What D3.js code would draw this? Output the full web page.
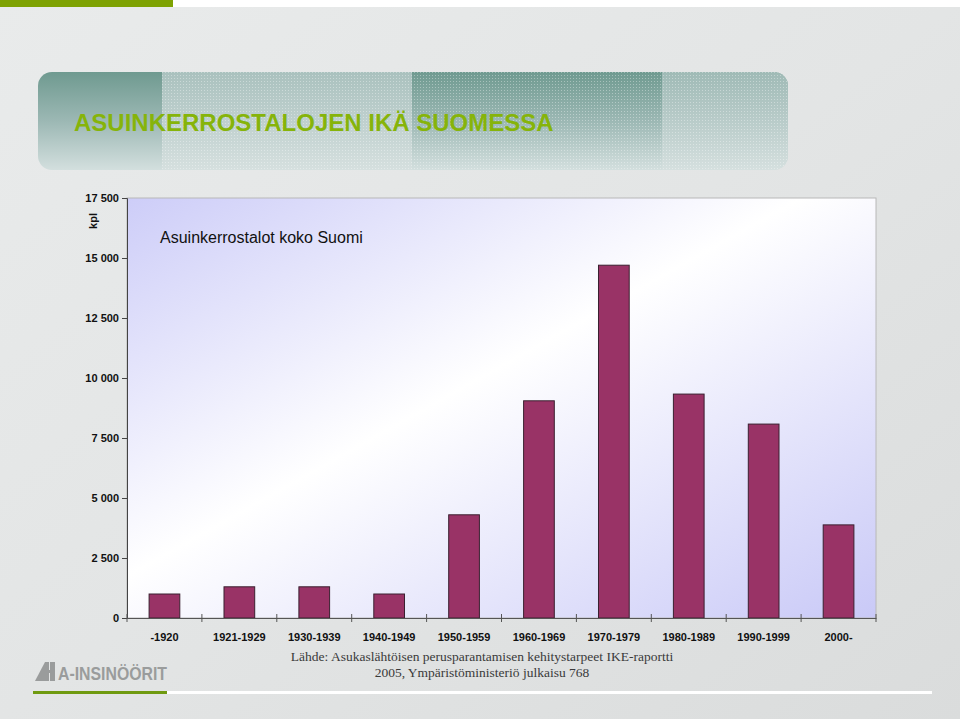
<!DOCTYPE html>
<html>
<head>
<meta charset="utf-8">
<script src="https://cdn.jsdelivr.net/npm/d3@7"></script>
<style>
html,body{margin:0;padding:0;overflow:hidden;}
svg{display:block;}
</style>
</head>
<body>
<script>
const categories = ["-1920","1921-1929","1930-1939","1940-1949","1950-1959","1960-1969","1970-1979","1980-1989","1990-1999","2000-"];
const values = [1000, 1300, 1300, 1000, 4300, 9050, 14700, 9330, 8080, 3880];
const yTicks = [0, 2500, 5000, 7500, 10000, 12500, 15000, 17500];
const title = "ASUINKERROSTALOJEN IKÄ SUOMESSA";
const chartTitle = "Asuinkerrostalot koko Suomi";
const yLabel = "kpl";
const sourceLines = ["Lähde: Asukaslähtöisen perusparantamisen kehitystarpeet IKE-raportti", "2005, Ympäristöministeriö julkaisu 768"];

const W = 960, H = 719;
const svg = d3.select("body").append("svg").attr("width", W).attr("height", H);
const defs = svg.append("defs");

// page background
const bg = defs.append("linearGradient").attr("id","bg").attr("x1","0").attr("y1","0").attr("x2","1").attr("y2","1");
bg.append("stop").attr("offset","0").attr("stop-color","#e9ebeb");
bg.append("stop").attr("offset","0.5").attr("stop-color","#e3e5e5");
bg.append("stop").attr("offset","1").attr("stop-color","#dadcdc");
svg.append("rect").attr("width",W).attr("height",H).attr("fill","url(#bg)");
svg.append("rect").attr("x",0).attr("y",0).attr("width",W).attr("height",7).attr("fill","#ffffff");
svg.append("rect").attr("x",0).attr("y",0).attr("width",173).attr("height",7).attr("fill","#7ea202");

// banner
const bn = defs.append("linearGradient").attr("id","bn").attr("x1","0").attr("y1","0").attr("x2","0").attr("y2","1");
bn.append("stop").attr("offset","0").attr("stop-color","#6f9a90");
bn.append("stop").attr("offset","0.5").attr("stop-color","#9cb8b4");
bn.append("stop").attr("offset","1").attr("stop-color","#d3dfde");
const bn2 = defs.append("linearGradient").attr("id","bn2").attr("x1","0").attr("y1","0").attr("x2","0").attr("y2","1");
bn2.append("stop").attr("offset","0").attr("stop-color","#b4c8c6");
bn2.append("stop").attr("offset","1").attr("stop-color","#d6e0df");
const pat = defs.append("pattern").attr("id","dots").attr("width",3).attr("height",3).attr("patternUnits","userSpaceOnUse");
pat.append("rect").attr("width",1).attr("height",1).attr("fill","#ffffff").attr("opacity",0.35);
const clip = defs.append("clipPath").attr("id","bclip");
clip.append("rect").attr("x",38).attr("y",72).attr("width",750).attr("height",98).attr("rx",14);
const bg2 = svg.append("g").attr("clip-path","url(#bclip)");
bg2.append("rect").attr("x",38).attr("y",72).attr("width",750).attr("height",98).attr("fill","url(#bn)");
bg2.append("rect").attr("x",162).attr("y",72).attr("width",250).attr("height",98).attr("fill","url(#bn2)").attr("opacity",0.85);
bg2.append("rect").attr("x",662).attr("y",72).attr("width",126).attr("height",98).attr("fill","url(#bn2)").attr("opacity",0.7);
bg2.append("rect").attr("x",162).attr("y",72).attr("width",626).attr("height",98).attr("fill","url(#dots)");
svg.append("text").attr("x",74).attr("y",131).text(title)
  .attr("font-family","Liberation Sans, Arial, sans-serif").attr("font-weight","bold").attr("font-size",24)
  .attr("fill","#86b40a");

// plot area
const m = {left:127, right:876, top:198, bottom:618};
const pg = defs.append("linearGradient").attr("id","pg").attr("x1","0").attr("y1","0").attr("x2","1").attr("y2","1");
pg.append("stop").attr("offset","0").attr("stop-color","#cdcdf8");
pg.append("stop").attr("offset","0.45").attr("stop-color","#ffffff");
pg.append("stop").attr("offset","1").attr("stop-color","#c9c9f7");
svg.append("rect").attr("x",m.left).attr("y",m.top).attr("width",m.right-m.left).attr("height",m.bottom-m.top)
  .attr("fill","url(#pg)").attr("stroke","#b8b8b8").attr("stroke-width",1);

const x = d3.scaleBand().domain(categories).range([m.left, m.right]).paddingInner(0.59).paddingOuter(0.295);
const y = d3.scaleLinear().domain([0,17500]).range([m.bottom, m.top]);

svg.append("g").selectAll("rect").data(values).join("rect")
  .attr("x",(d,i)=>x(categories[i])).attr("y",d=>y(d))
  .attr("width",x.bandwidth()).attr("height",d=>y(0)-y(d))
  .attr("fill","#993366").attr("stroke","#3a2030").attr("stroke-width",1);

// y axis
const yAxis = svg.append("g").attr("transform",`translate(${m.left},0)`)
  .call(d3.axisLeft(y).tickValues(yTicks).tickSize(5).tickPadding(3)
    .tickFormat(d=>d3.format(",")(d).replace(/,/g," ")));
yAxis.select(".domain").attr("stroke","#444");
yAxis.selectAll(".tick line").attr("stroke","#444");
yAxis.selectAll("text").attr("font-family","Liberation Sans, Arial, sans-serif").attr("font-weight","bold")
  .attr("font-size",11).attr("fill","#111");

// x axis
const step = x.step();
const xAxis = svg.append("g").attr("transform",`translate(0,${m.bottom})`)
  .call(d3.axisBottom(x).tickSize(0).tickPadding(15));
xAxis.select(".domain").attr("stroke","#555");
xAxis.selectAll("text").attr("font-family","Liberation Sans, Arial, sans-serif").attr("font-weight","bold")
  .attr("font-size",11).attr("fill","#111");
const bounds = d3.range(categories.length+1).map(i=>m.left + i*step);
svg.append("g").selectAll("line").data(bounds).join("line")
  .attr("x1",d=>d).attr("x2",d=>d).attr("y1",m.bottom-4).attr("y2",m.bottom+4)
  .attr("stroke","#555");

// labels
svg.append("text").attr("transform","translate(97,221) rotate(-90)").attr("text-anchor","middle")
  .text(yLabel).attr("font-family","Liberation Sans, Arial, sans-serif").attr("font-weight","bold")
  .attr("font-size",11).attr("fill","#111");
svg.append("text").attr("x",160).attr("y",243).text(chartTitle)
  .attr("font-family","Liberation Sans, Arial, sans-serif").attr("font-size",16).attr("fill","#111");

svg.append("g").selectAll("text").data(sourceLines).join("text")
  .attr("x",482).attr("y",(d,i)=>661+i*16).attr("text-anchor","middle").text(d=>d)
  .attr("font-family","Liberation Serif, Times New Roman, serif").attr("font-size",13.5).attr("fill","#3a3a3a");

// footer logo and lines
svg.append("rect").attr("x",33).attr("y",691).attr("width",134).attr("height",3).attr("fill","#6f9a10");
svg.append("rect").attr("x",167).attr("y",691).attr("width",765).attr("height",3).attr("fill","#ffffff");
const logo = svg.append("g").attr("fill","#9a9c9c");
logo.append("path").attr("d","M35,681 L45,662 L49,662 L49,681 Z");
logo.append("path").attr("d","M50,662 L55,662 L55,681 L50,681 Z");
logo.append("rect").attr("x",47).attr("y",670).attr("width",5).attr("height",3);
logo.append("text").attr("x",58).attr("y",680).text("A-INSINÖÖRIT")
  .attr("font-family","Liberation Sans Narrow, Liberation Sans, Arial, sans-serif").attr("font-weight","bold")
  .attr("font-size",19).attr("textLength",109).attr("lengthAdjust","spacingAndGlyphs");
</script>
</body>
</html>
